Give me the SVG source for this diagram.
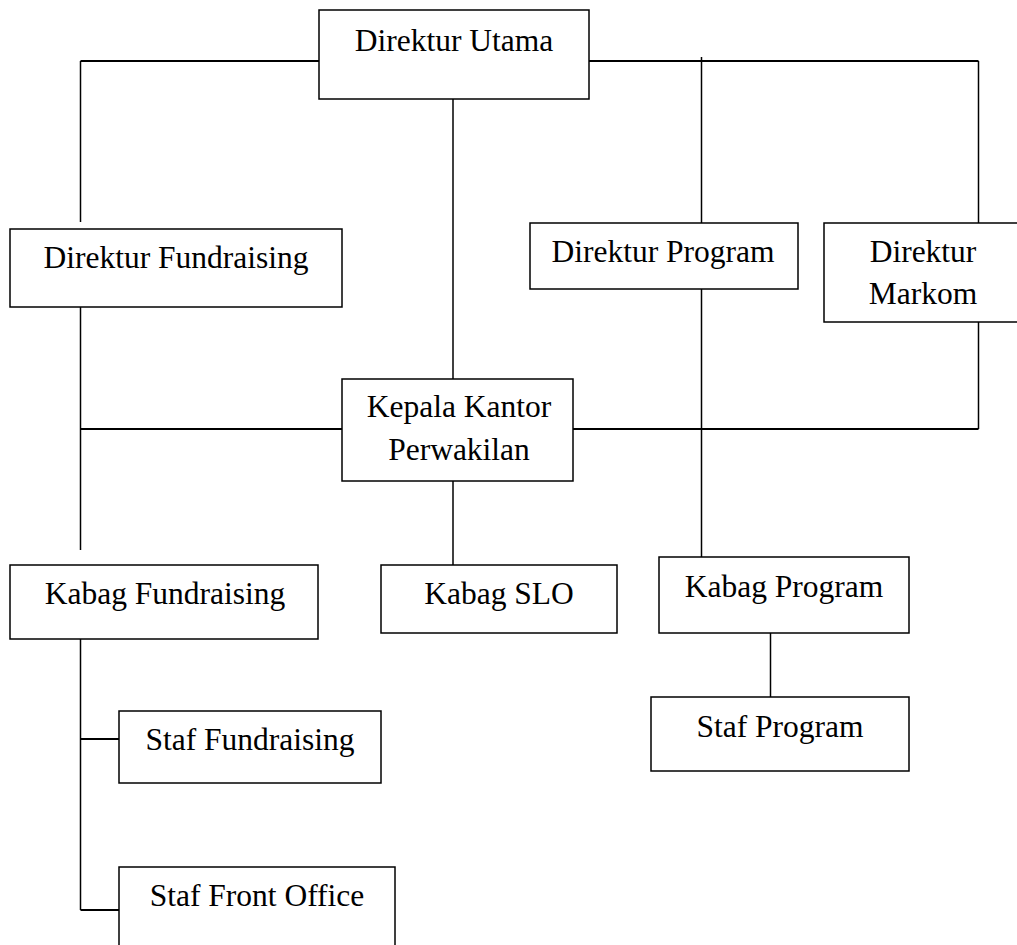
<svg xmlns="http://www.w3.org/2000/svg" width="1017" height="945" viewBox="0 0 1017 945">
<style>
.box{fill:#fff;stroke:#000;stroke-width:1.5}
.t{font-family:"Liberation Serif","Times New Roman",serif;font-size:31.5px;fill:#000;text-anchor:middle}
.c{stroke:#000;stroke-width:1.5;fill:none}
.h{stroke:#000;stroke-width:2;fill:none}
</style>
<rect width="1017" height="945" fill="#fff"/>
<g id="connectors">
<line class="h" x1="80.5" y1="61" x2="319" y2="61"/>
<line class="h" x1="589" y1="61" x2="978.5" y2="61"/>
<line class="c" x1="80.5" y1="61" x2="80.5" y2="222"/>
<line class="c" x1="701.5" y1="57" x2="701.5" y2="223"/>
<line class="c" x1="978.5" y1="61" x2="978.5" y2="223"/>
<line class="c" x1="453" y1="99" x2="453" y2="379"/>
<line class="c" x1="80.5" y1="307" x2="80.5" y2="550"/>
<line class="c" x1="978.5" y1="322" x2="978.5" y2="429"/>
<line class="h" x1="80.5" y1="429" x2="342" y2="429"/>
<line class="h" x1="573" y1="429" x2="978.5" y2="429"/>
<line class="c" x1="701.5" y1="289" x2="701.5" y2="557"/>
<line class="c" x1="453" y1="481" x2="453" y2="565"/>
<line class="c" x1="770.5" y1="633" x2="770.5" y2="697"/>
<line class="c" x1="80.5" y1="639" x2="80.5" y2="910"/>
<line class="h" x1="80.5" y1="739" x2="119" y2="739"/>
<line class="h" x1="80.5" y1="910" x2="119" y2="910"/>
</g>
<g id="direktur-utama"><rect class="box" x="319" y="10" width="270" height="89"/><text class="t" x="454" y="51">Direktur Utama</text></g>
<g id="direktur-fundraising"><rect class="box" x="10" y="229" width="332" height="78"/><text class="t" x="176" y="268">Direktur Fundraising</text></g>
<g id="direktur-program"><rect class="box" x="530" y="223" width="268" height="66"/><text class="t" x="663" y="262">Direktur Program</text></g>
<g id="direktur-markom"><rect class="box" x="824" y="223" width="200" height="99"/><text class="t" x="923" y="262">Direktur</text><text class="t" x="923" y="304">Markom</text></g>
<g id="kepala-kantor"><rect class="box" x="342" y="379" width="231" height="102"/><text class="t" x="459" y="417">Kepala Kantor</text><text class="t" x="459" y="460">Perwakilan</text></g>
<g id="kabag-fundraising"><rect class="box" x="10" y="565" width="308" height="74"/><text class="t" x="165" y="604">Kabag Fundraising</text></g>
<g id="kabag-slo"><rect class="box" x="381" y="565" width="236" height="68"/><text class="t" x="499" y="604">Kabag SLO</text></g>
<g id="kabag-program"><rect class="box" x="659" y="557" width="250" height="76"/><text class="t" x="784" y="597">Kabag Program</text></g>
<g id="staf-fundraising"><rect class="box" x="119" y="711" width="262" height="72"/><text class="t" x="250" y="750">Staf Fundraising</text></g>
<g id="staf-front-office"><rect class="box" x="119" y="867" width="276" height="90"/><text class="t" x="257" y="906">Staf Front Office</text></g>
<g id="staf-program"><rect class="box" x="651" y="697" width="258" height="74"/><text class="t" x="780" y="737">Staf Program</text></g>
</svg>
